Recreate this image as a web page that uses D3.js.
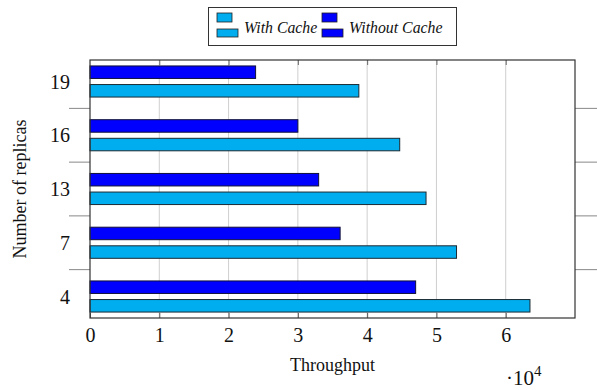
<!DOCTYPE html>
<html>
<head>
<meta charset="utf-8">
<script src="https://cdn.jsdelivr.net/npm/d3@7"></script>
<style>
  body { margin: 0; background: #fff; }
  text { font-family: "Liberation Serif", "DejaVu Serif", serif; fill: #111; }
</style>
</head>
<body>
<svg id="chart" width="597" height="390"></svg>
<script>
// Data (throughput, units of 10^4 shown on the axis)
const replicas = ["4", "7", "13", "16", "19"];
const withCache = [63500, 52900, 48500, 44700, 38800];
const withoutCache = [47000, 36100, 33000, 30000, 23900];
const xTicks = [0, 1, 2, 3, 4, 5, 6];

const svg = d3.select("#chart");

// Plot box
const plotLeft = 90, plotRight = 575, plotTop = 60, plotBottom = 318;

// Scales
const x = d3.scaleLinear().domain([0, 70000]).range([plotLeft, plotRight]);
const y = d3.scaleLinear().domain([-0.4, replicas.length - 0.6]).range([plotBottom, plotTop]);

const barH = 12.5;
const offset = 9.3;

// Grid lines
svg.append("g")
  .selectAll("line")
  .data(xTicks.slice(1))
  .enter()
  .append("line")
  .attr("x1", (d) => x(d * 1e4))
  .attr("x2", (d) => x(d * 1e4))
  .attr("y1", plotTop)
  .attr("y2", plotBottom)
  .attr("stroke", "#cfcfcf")
  .attr("stroke-width", 1);

// Bars - with cache (lower bar in each group)
svg.append("g")
  .selectAll("rect")
  .data(withCache)
  .enter()
  .append("rect")
  .attr("x", x(0))
  .attr("y", (d, i) => y(i) + offset - barH / 2)
  .attr("width", (d) => x(d) - x(0))
  .attr("height", barH)
  .attr("fill", "#00aeef")
  .attr("stroke", "#1a2a33")
  .attr("stroke-width", 1);

// Bars - without cache (upper bar)
svg.append("g")
  .selectAll("rect")
  .data(withoutCache)
  .enter()
  .append("rect")
  .attr("x", x(0))
  .attr("y", (d, i) => y(i) - offset - barH / 2)
  .attr("width", (d) => x(d) - x(0))
  .attr("height", barH)
  .attr("fill", "#0000ff")
  .attr("stroke", "#10103a")
  .attr("stroke-width", 1);

// Axes: bottom with ticks pointing inward, top with inward ticks
const xAxis = d3.axisBottom(x)
  .tickValues(xTicks.map((d) => d * 1e4))
  .tickFormat((d) => d / 1e4)
  .tickSizeInner(-5)
  .tickSizeOuter(0)
  .tickPadding(10);

const gx = svg.append("g")
  .attr("transform", `translate(0, ${plotBottom})`)
  .call(xAxis);
gx.select(".domain").remove();
gx.selectAll(".tick line").attr("stroke", "#555");
gx.selectAll(".tick text")
  .attr("font-size", 20)
  .attr("fill", "#111");

const gxTop = svg.append("g")
  .attr("transform", `translate(0, ${plotTop})`)
  .call(d3.axisTop(x).tickValues(xTicks.slice(1).map((d) => d * 1e4)).tickSizeInner(-5).tickSizeOuter(0).tickFormat(""));
gxTop.select(".domain").remove();
gxTop.selectAll(".tick line").attr("stroke", "#666");

// Y axis: labels at group centres, separators between groups
const gy = svg.append("g");
gy.selectAll("text")
  .data(replicas)
  .enter()
  .append("text")
  .attr("x", plotLeft - 20)
  .attr("y", (d, i) => y(i))
  .attr("dy", "0.35em")
  .attr("text-anchor", "end")
  .attr("font-size", 20)
  .text((d) => d);

const seps = d3.range(replicas.length - 1).map((i) => i + 0.5);
gy.selectAll("line.sepl")
  .data(seps)
  .enter()
  .append("line")
  .attr("class", "sepl")
  .attr("x1", plotLeft - 21)
  .attr("x2", plotLeft)
  .attr("y1", (d) => y(d))
  .attr("y2", (d) => y(d))
  .attr("stroke", "#888");
gy.selectAll("line.sepr")
  .data(seps)
  .enter()
  .append("line")
  .attr("class", "sepr")
  .attr("x1", plotRight)
  .attr("x2", 597)
  .attr("y1", (d) => y(d))
  .attr("y2", (d) => y(d))
  .attr("stroke", "#888");

// Plot frame
svg.append("rect")
  .attr("x", plotLeft)
  .attr("y", plotTop)
  .attr("width", plotRight - plotLeft)
  .attr("height", plotBottom - plotTop)
  .attr("fill", "none")
  .attr("stroke", "#333")
  .attr("stroke-width", 1.2);

// Axis labels
svg.append("text")
  .attr("x", (plotLeft + plotRight) / 2)
  .attr("y", 371)
  .attr("text-anchor", "middle")
  .attr("font-size", 18)
  .text("Throughput");

svg.append("text")
  .attr("transform", `translate(26, ${(plotTop + plotBottom) / 2}) rotate(-90)`)
  .attr("text-anchor", "middle")
  .attr("font-size", 18)
  .text("Number of replicas");

const sci = svg.append("text")
  .attr("x", 506)
  .attr("y", 385)
  .attr("font-size", 21);
sci.append("tspan").text("\u00b710");
sci.append("tspan").attr("dy", -9).attr("font-size", 15).text("4");

// Legend
const legend = svg.append("g");
legend.append("rect")
  .attr("x", 208.5)
  .attr("y", 7.5)
  .attr("width", 248)
  .attr("height", 38)
  .attr("fill", "#fff")
  .attr("stroke", "#333");

const legendItems = [
  { label: "With Cache", fill: "#00aeef", x: 217, tx: 244 },
  { label: "Without Cache", fill: "#0000ff", x: 322, tx: 349 }
];
legendItems.forEach((item) => {
  legend.append("rect")
    .attr("x", item.x).attr("y", 13).attr("width", 15).attr("height", 9)
    .attr("fill", item.fill).attr("stroke", "#222").attr("stroke-width", 0.8);
  legend.append("rect")
    .attr("x", item.x).attr("y", 29).attr("width", 21).attr("height", 8)
    .attr("fill", item.fill).attr("stroke", "#222").attr("stroke-width", 0.8);
  legend.append("text")
    .attr("x", item.tx)
    .attr("y", 33)
    .attr("font-size", 15.8)
    .attr("font-style", "italic")
    .text(item.label);
});
</script>
</body>
</html>
